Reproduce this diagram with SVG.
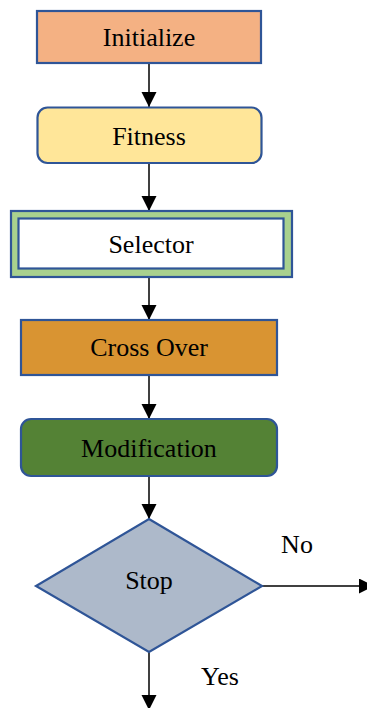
<svg xmlns="http://www.w3.org/2000/svg" width="367" height="708" viewBox="0 0 367 708">
<style>
.box{stroke:#2F5597;stroke-width:2.2}
.t{font-family:'Liberation Serif','Times New Roman',serif;font-size:26px;fill:#000;text-anchor:middle}
.c{stroke:#000;stroke-width:1.5;fill:none}
</style>
<defs>
<marker id="ah" markerUnits="userSpaceOnUse" markerWidth="16" markerHeight="16" refX="15" refY="7.5" orient="auto">
<path d="M0,0 L15,7.5 L0,15 Z" fill="#000"/>
</marker>
</defs>
<rect width="367" height="708" fill="#fff"/>
<g id="connectors">
<line class="c" x1="149" y1="63" x2="149" y2="107" marker-end="url(#ah)"/>
<line class="c" x1="149" y1="163" x2="149" y2="211" marker-end="url(#ah)"/>
<line class="c" x1="149" y1="277" x2="149" y2="320" marker-end="url(#ah)"/>
<line class="c" x1="149" y1="375" x2="149" y2="419" marker-end="url(#ah)"/>
<line class="c" x1="149" y1="476" x2="149" y2="519" marker-end="url(#ah)"/>
<line class="c" x1="262" y1="586" x2="374" y2="586" marker-end="url(#ah)"/>
<line class="c" x1="149" y1="652" x2="149" y2="710" marker-end="url(#ah)"/>
<text class="t" x="297" y="553">No</text>
<text class="t" x="220" y="685">Yes</text>
</g>
<g id="initialize">
<rect class="box" x="37" y="11" width="224" height="52" fill="#F4B183"/>
<text class="t" x="149" y="46">Initialize</text>
</g>
<g id="fitness">
<rect class="box" x="37.5" y="107.5" width="224" height="55.5" rx="10" fill="#FFE699"/>
<text class="t" x="149" y="145">Fitness</text>
</g>
<g id="selector">
<rect class="box" x="11" y="211" width="281" height="66" fill="#A9D18E"/>
<rect class="box" x="18.5" y="218.5" width="265" height="50" fill="#fff"/>
<text class="t" x="151" y="253">Selector</text>
</g>
<g id="crossover">
<rect class="box" x="21" y="320" width="256" height="55" fill="#D99432"/>
<text class="t" x="149" y="356">Cross Over</text>
</g>
<g id="modification">
<rect class="box" x="21" y="419" width="256" height="57" rx="10" fill="#548235"/>
<text class="t" x="149" y="457">Modification</text>
</g>
<g id="stop">
<polygon class="box" points="149,519 262,586 149,652 36,586" fill="#ADB9CA"/>
<text class="t" x="149" y="589">Stop</text>
</g>
</svg>
